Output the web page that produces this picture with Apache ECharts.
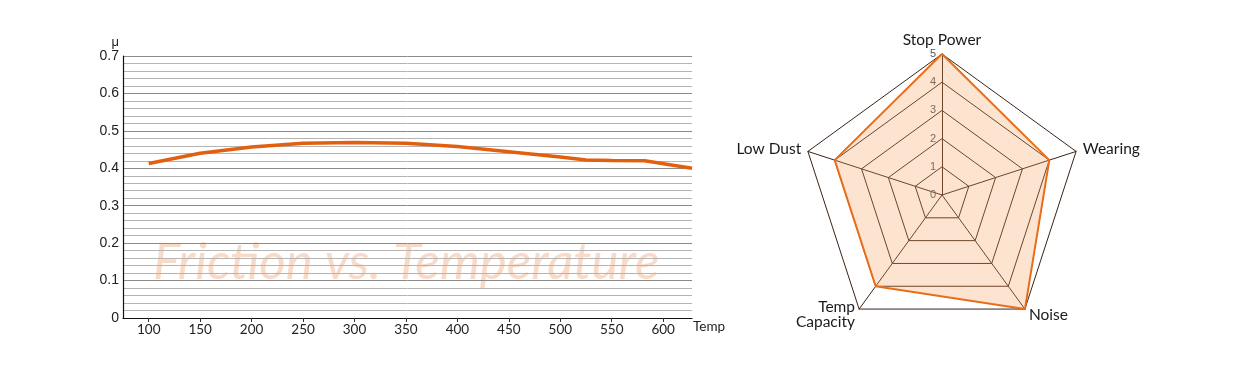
<!DOCTYPE html>
<html>
<head>
<meta charset="utf-8">
<script src="https://cdn.jsdelivr.net/npm/echarts@6/dist/echarts.min.js"></script>
<style>
html,body{margin:0;padding:0;background:#fff;}
#c{width:1241px;height:366px;}
</style>
</head>
<body>
<div id="c"></div>
<script>
// Friction vs temperature
const tempValues = [100, 150, 200, 250, 300, 350, 400, 450, 500, 525, 550, 582, 628];
const frictionValues = [0.413, 0.44, 0.457, 0.467, 0.469, 0.467, 0.458, 0.444, 0.43, 0.422, 0.421, 0.42, 0.40];
const xTickLabels = [100, 150, 200, 250, 300, 350, 400, 450, 500, 550, 600];

// Radar (ECharts order: counter-clockwise from top)
const radarNames = ['Stop Power', 'Low Dust', 'Temp\nCapacity', 'Noise', 'Wearing'];
const radarValues = [5, 4, 4, 5, 4];
const radarMax = 5;

const chart = echarts.init(document.getElementById('c'));
const linePoints = tempValues.map((t, i) => [t, frictionValues[i]]);

chart.setOption({
  animation: false,
  backgroundColor: '#fff',
  graphic: [{
    type: 'text',
    left: 153,
    top: 237,
    z: -1,
    silent: true,
    style: {
      text: 'Friction vs. Temperature',
      font: 'italic 400 51px Lato',
      fill: '#f9dac6'
    }
  }],
  grid: { left: 123, right: 549, top: 56, bottom: 48, containLabel: false },
  xAxis: {
    type: 'value',
    min: 75,
    max: 628,
    name: 'Temp',
    nameLocation: 'end',
    nameGap: 1,
    nameTextStyle: { fontFamily: 'Lato', fontSize: 13.5, color: '#222', verticalAlign: 'top', padding: [2, 0, 0, 0] },
    axisLine: { show: true, lineStyle: { color: '#111', width: 1.2 } },
    axisTick: { show: true, length: 4, customValues: xTickLabels, lineStyle: { color: '#333' } },
    axisLabel: { customValues: xTickLabels, fontFamily: 'Lato', fontSize: 13.5, color: '#222', margin: 5 },
    splitLine: { show: false }
  },
  yAxis: {
    type: 'value',
    min: 0,
    max: 0.7,
    interval: 0.1,
    name: 'μ',
    nameLocation: 'end',
    nameGap: 7,
    nameTextStyle: { fontFamily: 'Liberation Sans', fontSize: 13, color: '#222', align: 'right', padding: [0, 4, 0, 0] },
    axisLine: { show: true, lineStyle: { color: '#111', width: 1.2 } },
    axisTick: { show: false },
    axisLabel: { fontFamily: 'Liberation Sans', fontSize: 14, color: '#222', margin: 4 },
    splitLine: { show: true, lineStyle: { color: '#8a8a8a', width: 1 } },
    minorTick: { show: false, splitNumber: 5 },
    minorSplitLine: { show: true, lineStyle: { color: '#b4b4b4', width: 1 } }
  },
  radar: {
    center: [942, 195],
    radius: 141,
    startAngle: 90,
    splitNumber: 5,
    shape: 'polygon',
    indicator: radarNames.map((n, i) => i === 0
      ? { name: n, max: radarMax, min: 0, axisLabel: { show: true, color: '#555', fontSize: 11, fontFamily: 'Liberation Sans', margin: 6 } }
      : { name: n, max: radarMax, min: 0 }),
    axisName: { color: '#1a1a1a', fontFamily: 'Lato', fontSize: 15.5, lineHeight: 15 },
    nameGap: 7,
    axisLine: { lineStyle: { color: '#3a2418', width: 1 } },
    splitLine: { lineStyle: { color: '#3a2418', width: 1 } },
    splitArea: { show: false },
    axisTick: { show: false },
    axisLabel: { show: false }
  },
  series: [
    {
      type: 'line',
      data: linePoints,
      showSymbol: false,
      symbol: 'none',
      lineStyle: { color: '#e35f10', width: 3.6 },
      z: 3
    },
    {
      type: 'radar',
      symbol: 'none',
      data: [{ value: radarValues }],
      lineStyle: { color: '#e8650f', width: 2 },
      areaStyle: { color: 'rgba(248,158,88,0.4)' },
      z: 1
    }
  ]
});
</script>
</body>
</html>
